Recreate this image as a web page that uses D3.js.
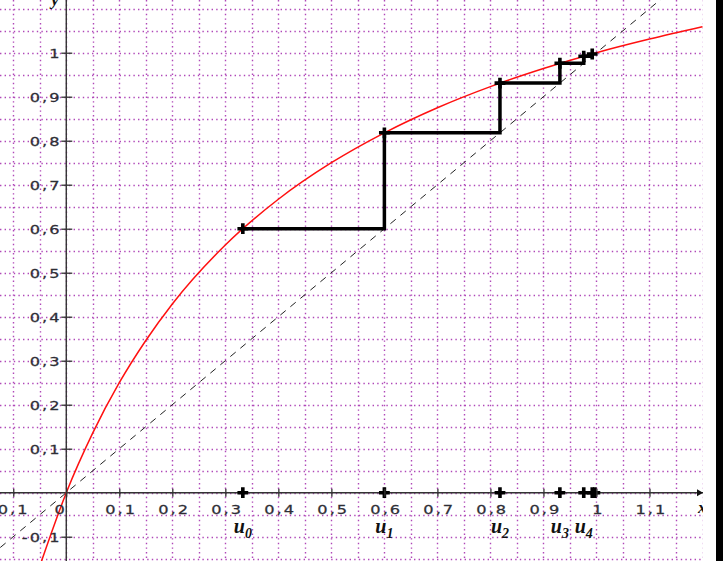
<!DOCTYPE html>
<html lang="fr">
<head>
<meta charset="utf-8">
<script src="https://cdn.jsdelivr.net/npm/d3@7"></script>
<style>
  body { margin: 0; background: #fff; }
  svg { display: block; }
  .tick-label { font-family: "DejaVu Sans", Verdana, sans-serif; font-size: 12px; letter-spacing: 1.5px; fill: #2e2e36; stroke: #2e2e36; stroke-width: 0.25px; }
  .u-label { font-family: "Liberation Serif", "DejaVu Serif", serif; font-weight: bold; font-style: italic; fill: #111; }
</style>
</head>
<body>
<svg id="chart"></svg>
<script>
var w = 723, h = 561;

// suite u(n+1) = f(u(n))
var uValues = [0.333, 0.6, 0.818, 0.931, 0.976, 0.992, 0.997];
var uNames = ['0', '1', '2', '3', '4'];

var curveX = [-0.05, 0, 0.05, 0.1, 0.15, 0.2, 0.3, 0.4, 0.5, 0.6, 0.7, 0.8, 0.9, 1.0, 1.1, 1.2];
var curveY = [-0.167, 0, 0.136, 0.25, 0.346, 0.429, 0.563, 0.667, 0.75, 0.818, 0.875, 0.923, 0.964, 1.0, 1.031, 1.059];

var xTicks = [-0.1, 0, 0.1, 0.2, 0.3, 0.4, 0.5, 0.6, 0.7, 0.8, 0.9, 1, 1.1];
var xTickLabels = ['-0,1', '0', '0,1', '0,2', '0,3', '0,4', '0,5', '0,6', '0,7', '0,8', '0,9', '1', '1,1'];
var yTicks = [-0.1, 0.1, 0.2, 0.3, 0.4, 0.5, 0.6, 0.7, 0.8, 0.9, 1];
var yTickLabels = ['-0,1', '0,1', '0,2', '0,3', '0,4', '0,5', '0,6', '0,7', '0,8', '0,9', '1'];

var plotRight = 703;
var stretch = 1.35;   // les chiffres du modèle sont très larges

var x = d3.scaleLinear().domain([-0.125, 1.2]).range([0, 702.5]);
var y = d3.scaleLinear().domain([-0.1552, 1.1198]).range([h, 0]);

var svg = d3.select('#chart')
            .attr('width', w)
            .attr('height', h);

svg.append('rect')
   .attr('width', w).attr('height', h)
   .attr('fill', '#fff');

svg.append('clipPath').attr('id', 'plot-clip')
   .append('rect')
   .attr('x', 0).attr('y', 0)
   .attr('width', plotRight).attr('height', h);

var plot = svg.append('g').attr('clip-path', 'url(#plot-clip)');

// quadrillage pointillé tous les 0,05
var grid = plot.append('g')
               .attr('stroke', '#b048b8')
               .attr('stroke-width', 1.4)
               .attr('stroke-dasharray', '1.4,3.2');

grid.selectAll('line.v')
    .data(d3.range(-0.1, 1.2001, 0.05))
    .enter().append('line')
    .attr('class', 'v')
    .attr('x1', function(d) { return Math.round(x(d)) + 0.5; })
    .attr('x2', function(d) { return Math.round(x(d)) + 0.5; })
    .attr('y1', 0).attr('y2', h);

grid.selectAll('line.h')
    .data(d3.range(-0.15, 1.1001, 0.05))
    .enter().append('line')
    .attr('class', 'h')
    .attr('y1', function(d) { return Math.round(y(d)) + 0.5; })
    .attr('y2', function(d) { return Math.round(y(d)) + 0.5; })
    .attr('x1', 0).attr('x2', plotRight);

// droite y = x
plot.append('line')
    .attr('x1', x(-0.2)).attr('y1', y(-0.2))
    .attr('x2', x(1.2)).attr('y2', y(1.2))
    .attr('stroke', '#222')
    .attr('stroke-width', 1)
    .attr('stroke-dasharray', '7,6');

// axes
var xAxis = d3.axisBottom(x)
              .tickValues(xTicks)
              .tickFormat(function(d, i) { return xTickLabels[i]; })
              .tickSizeInner(4)
              .tickSizeOuter(0);

var gx = svg.append('g')
            .attr('transform', 'translate(0,' + y(0) + ')')
            .call(xAxis);
gx.select('.domain').remove();
gx.selectAll('.tick line')
  .attr('y1', -4).attr('y2', 4)
  .attr('stroke', '#333').attr('stroke-width', 1.3);
gx.selectAll('.tick text')
  .attr('class', 'tick-label')
  .attr('fill', null)
  .attr('y', 21).attr('dy', null)
  .attr('text-anchor', function(d) { return d === 0 ? 'end' : 'middle'; })
  .attr('x', function(d) { return d === 0 ? 0 : (d < 0 ? -3 : 1); })
  .attr('transform', 'scale(' + stretch + ',1)');

var yAxis = d3.axisLeft(y)
              .tickValues(yTicks)
              .tickFormat(function(d, i) { return yTickLabels[i]; })
              .tickSizeInner(5)
              .tickSizeOuter(0);

var gy = svg.append('g')
            .attr('transform', 'translate(' + x(0) + ',0)')
            .call(yAxis);
gy.select('.domain').remove();
gy.selectAll('.tick line')
  .attr('x1', -5).attr('x2', 6)
  .attr('stroke', '#333').attr('stroke-width', 1.3);
gy.selectAll('.tick text')
  .attr('class', 'tick-label')
  .attr('fill', null)
  .attr('x', -3.5).attr('dy', '0.36em')
  .attr('transform', 'scale(' + stretch + ',1)');
gx.attr('font-family', null).attr('font-size', null);
gy.attr('font-family', null).attr('font-size', null);

plot.append('line')
    .attr('x1', 0).attr('x2', plotRight)
    .attr('y1', y(0)).attr('y2', y(0))
    .attr('stroke', '#333').attr('stroke-width', 1.4);
svg.append('line')
   .attr('x1', x(0)).attr('x2', x(0))
   .attr('y1', 0).attr('y2', h)
   .attr('stroke', '#333').attr('stroke-width', 1.4);
plot.append('path')
    .attr('d', 'M' + (plotRight - 6) + ',' + (y(0) - 3.5) + 'L' + plotRight + ',' + y(0) + 'L' + (plotRight - 6) + ',' + (y(0) + 3.5) + 'Z')
    .attr('fill', '#111');

// courbe de f
var curvePts = curveX.map(function(d, i) { return [d, curveY[i]]; });
plot.append('path')
    .datum(curvePts)
    .attr('fill', 'none')
    .attr('stroke', '#ff1010')
    .attr('stroke-width', 1.5)
    .attr('d', d3.line()
                 .x(function(d) { return x(d[0]); })
                 .y(function(d) { return y(d[1]); })
                 .curve(d3.curveMonotoneX));

// escalier
var stair = [];
for (var i = 0; i < uValues.length - 1; i++) {
    stair.push([uValues[i], uValues[i + 1]]);
    if (i + 1 < uValues.length - 1) stair.push([uValues[i + 1], uValues[i + 1]]);
}
plot.append('path')
    .datum(stair)
    .attr('fill', 'none')
    .attr('stroke', '#000')
    .attr('stroke-width', 3.5)
    .attr('stroke-linejoin', 'miter')
    .attr('d', d3.line()
                 .x(function(d) { return x(d[0]); })
                 .y(function(d) { return y(d[1]); }));

// croix
var cross = d3.symbol().type(d3.symbolCross).size(65);
var curveMarks = uValues.slice(0, -1).map(function(d, i) { return [d, uValues[i + 1]]; });
plot.selectAll('path.cross-curve')
    .data(curveMarks)
    .enter().append('path')
    .attr('class', 'cross-curve')
    .attr('d', cross)
    .attr('fill', '#000')
    .attr('transform', function(d) { return 'translate(' + x(d[0]) + ',' + y(d[1]) + ')'; });
plot.selectAll('path.cross-axis')
    .data(uValues)
    .enter().append('path')
    .attr('class', 'cross-axis')
    .attr('d', cross)
    .attr('fill', '#000')
    .attr('transform', function(d) { return 'translate(' + x(d) + ',' + y(0) + ')'; });

// noms des termes
var uLab = svg.selectAll('text.u-label')
              .data(uNames)
              .enter().append('text')
              .attr('class', 'u-label')
              .attr('text-anchor', 'middle')
              .attr('x', function(d, i) { return x(uValues[i]); })
              .attr('y', y(0) + 40);
uLab.append('tspan').attr('font-size', 20).text('u');
uLab.append('tspan').attr('font-size', 14).attr('dy', 5).text(function(d) { return d; });

// noms des axes (coupés par le bord, comme sur le modèle)
plot.append('text')
    .attr('class', 'u-label')
    .attr('font-size', 17)
    .attr('x', plotRight - 5).attr('y', y(0) + 20)
    .text('x');
svg.append('text')
   .attr('class', 'u-label')
   .attr('font-size', 17)
   .attr('x', x(0) - 15).attr('y', 5)
   .text('y');

// bande noire à droite
svg.append('rect')
   .attr('x', 716).attr('y', 0)
   .attr('width', w - 716).attr('height', h)
   .attr('fill', '#000');
</script>
</body>
</html>
